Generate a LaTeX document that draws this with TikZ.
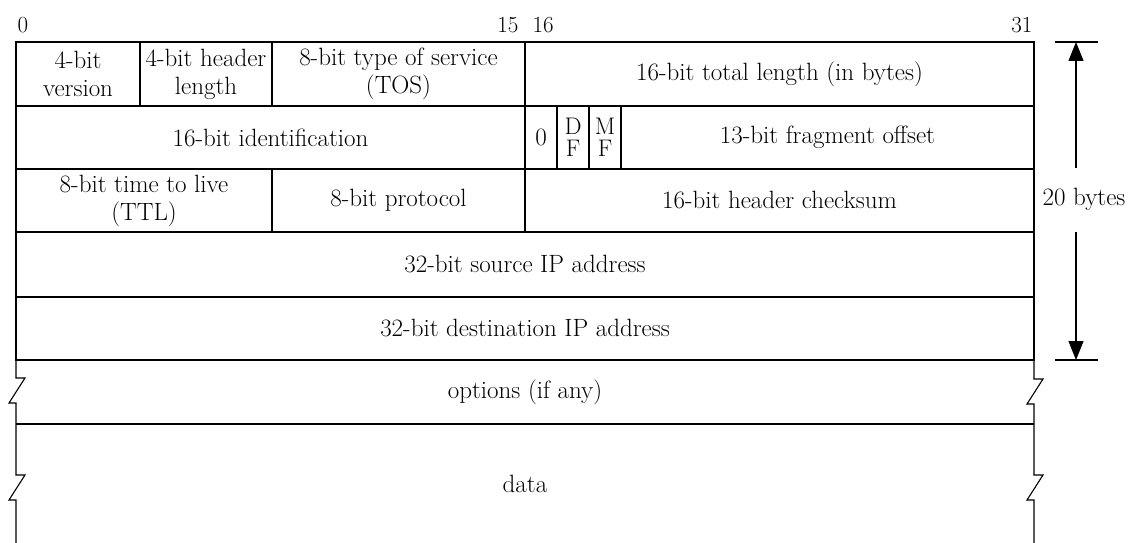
\documentclass[tikz,border=0pt]{standalone}
\usepackage{fontspec}
\usetikzlibrary{arrows.meta}
\newcommand{\hdrfont}{\fontsize{25}{28}\selectfont}
\newcommand{\flagfont}{\fontsize{24}{22}\selectfont}

\begin{document}
\begin{tikzpicture}[x=1pt, y=-1pt, line width=1.1pt,
  fld/.style={draw, inner sep=0pt, align=center, font=\hdrfont},
  cell/.style 2 args={fld, minimum width=#1pt, minimum height=#2pt},
  flag/.style={cell={32}{63}, font=\flagfont},
  lbl/.style={inner sep=0pt, align=center, font=\hdrfont},
  bitno/.style={inner sep=0pt, font=\fontsize{23}{26}\selectfont},
  dimarr/.style={-{Triangle[width=15pt, length=19pt]}},
]
  \useasboundingbox (0,0) rectangle (1133,543);

  % bit numbers
  \node[bitno, anchor=base west] (b0)  at (17,33)   {0};
  \node[bitno, anchor=base east] (b15) at (519,33)  {15};
  \node[bitno, anchor=base west] (b16) at (532,33)  {16};
  \node[bitno, anchor=base east] (b31) at (1033,33) {31};

  % first word
  \node[cell={124}{64}] (ver)    at (78,74)    {4-bit\\version};
  \node[cell={132}{64}] (hlen)   at (206,74)   {4-bit header\\length};
  \node[cell={253}{64}] (tos)    at (398.5,74) {8-bit type of service\\(TOS)};
  \node[cell={509}{64}] (totlen) at (779.5,74) {16-bit total length (in bytes)};

  % second word
  \node[cell={509}{63}] (ident) at (270.5,137.5) {16-bit identification};
  \node[cell={32}{63}]  (zero)  at (541,137.5)   {0};
  \node[flag]           (df)    at (573,137.5)   {D\\F};
  \node[flag]           (mf)    at (605,137.5)   {M\\F};
  \node[cell={413}{63}] (frag)  at (827.5,137.5) {13-bit fragment offset};

  % third word
  \node[cell={256}{63}] (ttl)   at (144,200.5)   {8-bit time to live\\(TTL)};
  \node[cell={253}{63}] (proto) at (398.5,200.5) {8-bit protocol};
  \node[cell={509}{63}] (cksum) at (779.5,200.5) {16-bit header checksum};

  % addresses
  \node[cell={1018}{65}] (src) at (525,264.5) {32-bit source IP address};
  \node[cell={1018}{63}] (dst) at (525,328.5) {32-bit destination IP address};

  % options and data, broken sides
  \node[lbl] (opt)  at (525,392) {options (if any)};
  \node[lbl] (data) at (525,484) {data};
  \draw (16,424) -- (1034,424);
  \draw (16,360) -- (16,378) -- ++(9,0) -- ++(-16,25) -- ++(7,0)
        -- (16,475) -- ++(9,0) -- ++(-16,25) -- ++(7,0) -- (16,543);
  \draw (1034,360) -- (1034,379) -- ++(9,0) -- ++(-16,25) -- ++(7,0)
        -- (1034,475) -- ++(9,0) -- ++(-16,25) -- ++(7,0) -- (1034,543);

  % header length
  \coordinate (top) at (1076,42);
  \coordinate (bot) at (1076,360);
  \coordinate (a1) at (1076,168);
  \coordinate (a2) at (1076,232);
  \node[lbl] (len) at (1084,199) {20 bytes};
  \draw ([xshift=-21pt]top) -- ([xshift=22pt]top);
  \draw ([xshift=-21pt]bot) -- ([xshift=22pt]bot);
  \draw[dimarr] (a1) -- (top);
  \draw[dimarr] (a2) -- (bot);
\end{tikzpicture}
\end{document}
